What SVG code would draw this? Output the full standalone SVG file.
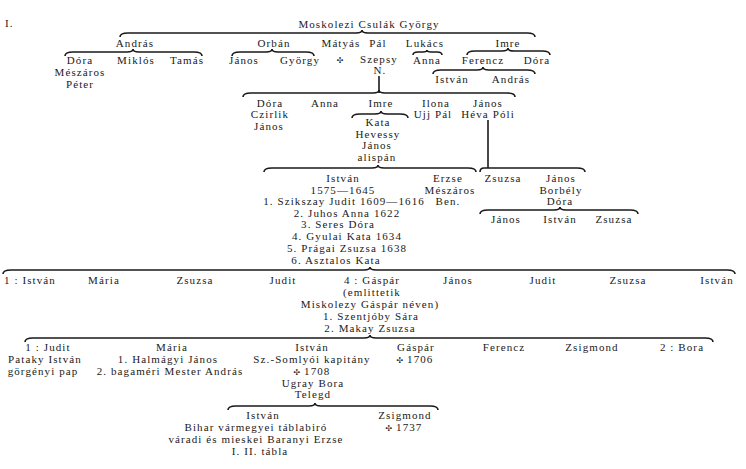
<svg xmlns="http://www.w3.org/2000/svg" width="746" height="469" viewBox="0 0 746 469">
<style>
text{font-family:"Liberation Serif","DejaVu Serif",serif;font-size:11px;fill:#1a1a1a;text-anchor:middle;letter-spacing:1.1px}
.l{text-anchor:start}
.s{font-family:"DejaVu Sans",sans-serif;font-size:8px;letter-spacing:0}
#conn path{fill:none;stroke:#1a1a1a;stroke-width:1.6}
</style>
<rect width="746" height="469" fill="#fff"/>
<g id="conn">
<path d="M120,37 Q120,33 128,33 L356,33 Q362,33 362,30 Q362,33 368,33 L527,33 Q535,33 535,37"/>
<path d="M65,56 Q65,52 73,52 L127,52 Q133,52 133,49 Q133,52 139,52 L194,52 Q202,52 202,56"/>
<path d="M232,56 Q232,52 240,52 L266,52 Q272,52 272,49 Q272,52 278,52 L306,52 Q314,52 314,56"/>
<path d="M413,55 Q413,52 418,52 L423,52 Q427,52 427,50 Q427,52 431,52 L437,52 Q442,52 442,55"/>
<path d="M467,55 Q467,51 475,51 L502,51 Q508,51 508,48 Q508,51 514,51 L542,51 Q550,51 550,55"/>
<path d="M433,74 Q433,70 441,70 L477,70 Q483,70 483,67 Q483,70 489,70 L527,70 Q535,70 535,74"/>
<path d="M379,76 L379,93"/>
<path d="M243,97 Q243,93 251,93 L373,93 Q379,93 379,90 Q379,93 385,93 L507,93 Q515,93 515,97"/>
<path d="M352,118 Q352,114 360,114 L375,114 Q381,114 381,111 Q381,114 387,114 L400,114 Q408,114 408,118"/>
<path d="M488,120 L488,168"/>
<path d="M264,172 Q264,168 272,168 L372,168 Q378,168 378,165 Q378,168 384,168 L468,168 Q476,168 476,172"/>
<path d="M480,172 Q480,168 484,168 L488,168 L577,168 Q585,168 585,172"/>
<path d="M480,214 Q480,210 488,210 L554,210 Q560,210 560,207 Q560,210 566,210 L630,210 Q638,210 638,214"/>
<path d="M3,274 Q3,270 11,270 L364,270 Q370,270 370,267 Q370,270 376,270 L727,270 Q735,270 735,274"/>
<path d="M25,342 Q25,338 33,338 L364,338 Q370,338 370,335 Q370,338 376,338 L705,338 Q713,338 713,342"/>
<path d="M228,410 Q228,406 236,406 L309,406 Q315,406 315,403 Q315,406 321,406 L430,406 Q438,406 438,410"/>
</g>
<g id="label-I"><text class="l" x="5" y="27">I.</text></g>
<g id="gyorgy"><text x="369" y="28">Moskolezi Csulák György</text></g>
<g id="andras"><text x="135" y="47">András</text></g>
<g id="orban"><text x="274" y="47">Orbán</text></g>
<g id="matyas"><text x="341" y="47">Mátyás</text><text class="s" x="340" y="63">✣</text></g>
<g id="pal"><text x="378" y="47">Pál</text><text x="379" y="63">Szepsy</text><text x="380" y="74">N.</text></g>
<g id="lukacs"><text x="425" y="47">Lukács</text></g>
<g id="imre1"><text x="508" y="47">Imre</text></g>
<g id="dora1"><text x="80" y="64">Dóra</text><text x="80" y="76">Mészáros</text><text x="80" y="88">Péter</text></g>
<g id="miklos"><text x="136" y="64">Miklós</text></g>
<g id="tamas"><text x="187" y="64">Tamás</text></g>
<g id="janos1"><text x="244" y="64">János</text></g>
<g id="gyorgy2"><text x="300" y="64">György</text></g>
<g id="anna1"><text x="427" y="64">Anna</text></g>
<g id="ferencz1"><text x="483" y="64">Ferencz</text></g>
<g id="dora2"><text x="537" y="64">Dóra</text></g>
<g id="istvan1"><text x="452" y="83">István</text></g>
<g id="andras2"><text x="511" y="83">András</text></g>
<g id="dora3"><text x="270" y="107">Dóra</text><text x="270" y="118">Czirlik</text><text x="269" y="130">János</text></g>
<g id="anna2"><text x="325" y="107">Anna</text></g>
<g id="imre2"><text x="381" y="107">Imre</text></g>
<g id="ilona"><text x="436" y="107">Ilona</text><text x="433" y="118">Ujj Pál</text></g>
<g id="janos2"><text x="488" y="107">János</text><text x="488" y="118">Héva Póli</text></g>
<g id="kata"><text x="378" y="126">Kata</text><text x="378" y="138">Hevessy</text><text x="377" y="149">János</text><text x="377" y="161">alispán</text></g>
<g id="istvan2"><text x="343" y="182">István</text><text x="343" y="194">1575—1645</text><text x="344" y="205">1. Szikszay Judit 1609—1616</text><text x="347" y="217">2. Juhos Anna 1622</text><text x="338" y="228">3. Seres Dóra</text><text x="347" y="240">4. Gyulai Kata 1634</text><text x="347" y="252">5. Prágai Zsuzsa 1638</text><text x="336" y="264">6. Asztalos Kata</text></g>
<g id="erzse"><text x="448" y="182">Erzse</text><text x="450" y="194">Mészáros</text><text x="448" y="205">Ben.</text></g>
<g id="zsuzsa1"><text x="503" y="182">Zsuzsa</text></g>
<g id="janos3"><text x="561" y="182">János</text><text x="561" y="194">Borbély</text><text x="560" y="205">Dóra</text></g>
<g id="janos4"><text x="506" y="223">János</text></g>
<g id="istvan3"><text x="560" y="223">István</text></g>
<g id="zsuzsa2"><text x="614" y="223">Zsuzsa</text></g>
<g id="istvan4"><text x="30" y="284">1 : István</text></g>
<g id="maria1"><text x="104" y="284">Mária</text></g>
<g id="zsuzsa3"><text x="195" y="284">Zsuzsa</text></g>
<g id="judit1"><text x="283" y="284">Judit</text></g>
<g id="gaspar1"><text x="372" y="284">4 : Gáspár</text><text x="372" y="296">(emlittetik</text><text x="370" y="308">Miskolezy Gáspár néven)</text><text x="371" y="320">1. Szentjóby Sára</text><text x="370" y="332">2. Makay Zsuzsa</text></g>
<g id="janos5"><text x="458" y="284">János</text></g>
<g id="judit2"><text x="543" y="284">Judit</text></g>
<g id="zsuzsa4"><text x="628" y="284">Zsuzsa</text></g>
<g id="istvan5"><text x="717" y="284">István</text></g>
<g id="judit3"><text x="48" y="351">1 : Judit</text><text x="45" y="363">Pataky István</text><text x="43" y="375">görgényi pap</text></g>
<g id="maria2"><text x="172" y="351">Mária</text><text x="168" y="363">1. Halmágyi János</text><text x="170" y="375">2. bagaméri Mester András</text></g>
<g id="istvan6"><text x="312" y="351">István</text><text x="312" y="363">Sz.-Somlyói kapitány</text><text x="312" y="375"><tspan class="s">✣</tspan> 1708</text><text x="313" y="387">Ugray Bora</text><text x="313" y="398">Telegd</text></g>
<g id="gaspar2"><text x="416" y="351">Gáspár</text><text x="415" y="363"><tspan class="s">✣</tspan> 1706</text></g>
<g id="ferencz2"><text x="504" y="351">Ferencz</text></g>
<g id="zsigmond1"><text x="592" y="351">Zsigmond</text></g>
<g id="bora"><text x="682" y="351">2 : Bora</text></g>
<g id="istvan7"><text x="263" y="419">István</text><text x="256" y="431">Bihar vármegyei táblabiró</text><text x="256" y="443">váradi és mieskei Baranyi Erzse</text><text x="260" y="455">I. II. tábla</text></g>
<g id="zsigmond2"><text x="405" y="419">Zsigmond</text><text x="404" y="431"><tspan class="s">✣</tspan> 1737</text></g>
</svg>
